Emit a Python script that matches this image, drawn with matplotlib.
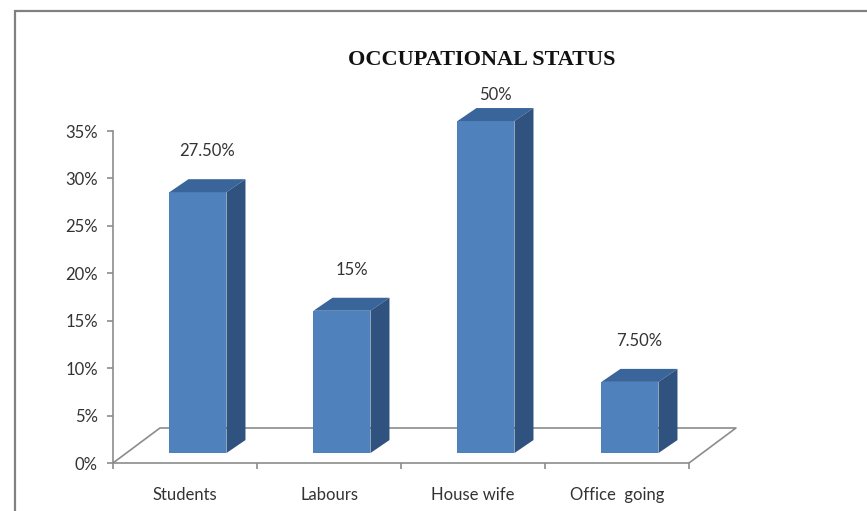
import matplotlib.pyplot as plt
from matplotlib.patches import Polygon, Rectangle

categorias = ["Students", "Labours", "House wife", "Office  going"]
porcentajes = [0.275, 0.15, 0.50, 0.075]
etiquetas = ["27.50%", "15%", "50%", "7.50%"]
ticks_y = [0, 0.05, 0.10, 0.15, 0.20, 0.25, 0.30, 0.35]

FRENTE = "#4F81BD"
TECHO = "#3A659B"
LADO = "#30527F"
GRIS = "#8C8C8C"

y_max = 0.35
# desplazamientos de profundidad (unidades de datos)
piso_dx, piso_dy = 0.326, 0.0369
barra_dx, barra_dy = 0.09, 0.0105
prof_dx, prof_dy = 0.132, 0.0137
ancho = 0.396

fig = plt.figure(figsize=(8.67, 5.11), dpi=100)
fig.patches.append(Rectangle((15 / 867, -0.1), 1.2, (511 - 11) / 511 + 0.1,
                             transform=fig.transFigure, fill=False,
                             edgecolor="#808080", lw=1.6))

ax = fig.add_axes([113 / 867, 48 / 511, 4.45 * 144 / 867, 0.43 * (332 / 0.35) / 511])
ax.set_xlim(0, 4.45)
ax.set_ylim(0, 0.43)

# piso en perspectiva
ax.plot([0, piso_dx, 4 + piso_dx, 4], [0, piso_dy, piso_dy, 0], color=GRIS, lw=1.2, zorder=1)

for i, v in enumerate(porcentajes):
    h = min(v, y_max)
    x0 = i + 0.5 + barra_dx - ancho / 2
    x1 = x0 + ancho
    y0 = barra_dy
    y1 = barra_dy + h
    ax.add_patch(Polygon([(x0, y0), (x1, y0), (x1, y1), (x0, y1)],
                         closed=True, facecolor=FRENTE, edgecolor="none", zorder=3))
    ax.add_patch(Polygon([(x0, y1), (x1, y1), (x1 + prof_dx, y1 + prof_dy), (x0 + prof_dx, y1 + prof_dy)],
                         closed=True, facecolor=TECHO, edgecolor="none", zorder=3))
    ax.add_patch(Polygon([(x1, y0), (x1 + prof_dx, y0 + prof_dy), (x1 + prof_dx, y1 + prof_dy), (x1, y1)],
                         closed=True, facecolor=LADO, edgecolor="none", zorder=3))
    extra = 0.005 if v > y_max else 0.021
    ax.text(x0 + ancho / 2 + prof_dx / 2, y1 + prof_dy + extra, etiquetas[i],
            ha="center", va="bottom", fontsize=12, family="Lato", color="#333333")

for lado in ["top", "right"]:
    ax.spines[lado].set_visible(False)
ax.spines["left"].set_bounds(0, y_max)
ax.spines["bottom"].set_bounds(0, 4)
ax.spines["left"].set_color(GRIS)
ax.spines["bottom"].set_color(GRIS)
ax.spines["left"].set_linewidth(1.2)
ax.spines["bottom"].set_linewidth(1.2)

ax.set_yticks(ticks_y)
ax.set_yticklabels([f"{int(round(t * 100))}%" for t in ticks_y])
ax.set_xticks(range(5))
ax.set_xticklabels([""] * 5)
ax.set_xticks([i + 0.5 for i in range(4)], minor=True)
ax.set_xticklabels(categorias, minor=True)
ax.tick_params(axis="y", length=4, width=1.2, color=GRIS, pad=7, labelsize=12, labelcolor="#333333")
ax.tick_params(axis="x", which="major", length=4, width=1.2, color=GRIS)
ax.tick_params(axis="x", which="minor", length=0, pad=17, labelsize=12, labelcolor="#333333")
for t in ax.get_yticklabels() + ax.get_xticklabels(minor=True):
    t.set_family("Lato")

fig.text(482 / 867, 1 - 60 / 511, "OCCUPATIONAL STATUS", ha="center", va="center",
         fontsize=16, fontweight="bold", family="Liberation Serif", color="#111111")

fig.savefig("out.png", dpi=100)
